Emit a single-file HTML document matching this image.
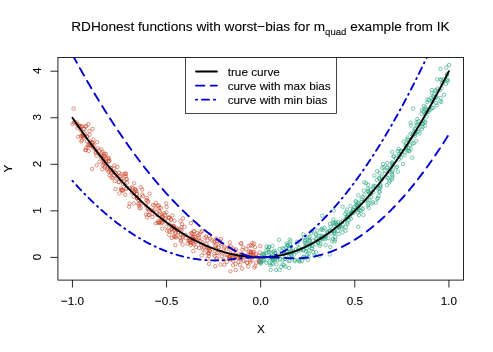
<!DOCTYPE html><html><head><meta charset="utf-8"><title>plot</title><style>html,body{margin:0;padding:0;background:#fff}body{width:493px;height:352px;overflow:hidden}</style></head><body><svg width="493" height="352" viewBox="0 0 493 352" style="display:block;font-family:'Liberation Sans',sans-serif">
<rect width="493" height="352" fill="#fff"/>
<defs><clipPath id="c"><rect x="57.9" y="57.5" width="405.58" height="222.55"/></clipPath></defs>
<g clip-path="url(#c)">
<g fill="none" stroke="#CD4A30" stroke-width="0.7" stroke-opacity="0.85"><circle cx="246.3" cy="249.3" r="1.72"/><circle cx="113.9" cy="168.4" r="1.72"/><circle cx="178.2" cy="232.7" r="1.72"/><circle cx="124.5" cy="174.2" r="1.72"/><circle cx="76.6" cy="122.5" r="1.72"/><circle cx="159.3" cy="207.6" r="1.72"/><circle cx="166.4" cy="226.6" r="1.72"/><circle cx="247.1" cy="262.9" r="1.72"/><circle cx="210.2" cy="238.5" r="1.72"/><circle cx="166.6" cy="206.9" r="1.72"/><circle cx="132.8" cy="188.4" r="1.72"/><circle cx="109.4" cy="160.8" r="1.72"/><circle cx="189.0" cy="240.6" r="1.72"/><circle cx="248.3" cy="266.4" r="1.72"/><circle cx="206.4" cy="247.4" r="1.72"/><circle cx="89.5" cy="131.0" r="1.72"/><circle cx="220.5" cy="264.5" r="1.72"/><circle cx="175.6" cy="232.4" r="1.72"/><circle cx="85.4" cy="150.1" r="1.72"/><circle cx="256.0" cy="256.5" r="1.72"/><circle cx="147.6" cy="200.7" r="1.72"/><circle cx="81.8" cy="140.3" r="1.72"/><circle cx="217.3" cy="252.9" r="1.72"/><circle cx="157.4" cy="205.8" r="1.72"/><circle cx="89.6" cy="142.6" r="1.72"/><circle cx="235.6" cy="263.9" r="1.72"/><circle cx="162.2" cy="228.6" r="1.72"/><circle cx="119.4" cy="193.3" r="1.72"/><circle cx="134.8" cy="189.3" r="1.72"/><circle cx="172.6" cy="232.2" r="1.72"/><circle cx="222.1" cy="244.0" r="1.72"/><circle cx="168.3" cy="217.5" r="1.72"/><circle cx="190.6" cy="242.8" r="1.72"/><circle cx="170.8" cy="229.4" r="1.72"/><circle cx="191.8" cy="233.1" r="1.72"/><circle cx="103.0" cy="158.3" r="1.72"/><circle cx="116.0" cy="173.0" r="1.72"/><circle cx="201.6" cy="255.5" r="1.72"/><circle cx="152.9" cy="205.1" r="1.72"/><circle cx="208.7" cy="253.1" r="1.72"/><circle cx="175.4" cy="245.1" r="1.72"/><circle cx="194.2" cy="244.5" r="1.72"/><circle cx="136.9" cy="194.0" r="1.72"/><circle cx="191.0" cy="223.1" r="1.72"/><circle cx="174.3" cy="230.7" r="1.72"/><circle cx="125.3" cy="194.7" r="1.72"/><circle cx="182.9" cy="218.3" r="1.72"/><circle cx="90.1" cy="141.5" r="1.72"/><circle cx="226.7" cy="254.7" r="1.72"/><circle cx="121.2" cy="188.5" r="1.72"/><circle cx="181.2" cy="239.7" r="1.72"/><circle cx="180.4" cy="221.3" r="1.72"/><circle cx="141.3" cy="203.2" r="1.72"/><circle cx="162.3" cy="223.1" r="1.72"/><circle cx="182.6" cy="237.0" r="1.72"/><circle cx="260.4" cy="246.1" r="1.72"/><circle cx="243.3" cy="260.5" r="1.72"/><circle cx="127.2" cy="182.6" r="1.72"/><circle cx="162.0" cy="217.1" r="1.72"/><circle cx="129.6" cy="188.0" r="1.72"/><circle cx="80.8" cy="136.2" r="1.72"/><circle cx="132.1" cy="187.5" r="1.72"/><circle cx="250.7" cy="245.4" r="1.72"/><circle cx="202.5" cy="244.5" r="1.72"/><circle cx="149.1" cy="215.0" r="1.72"/><circle cx="216.4" cy="259.0" r="1.72"/><circle cx="79.0" cy="126.0" r="1.72"/><circle cx="82.8" cy="134.6" r="1.72"/><circle cx="101.0" cy="157.6" r="1.72"/><circle cx="171.8" cy="226.2" r="1.72"/><circle cx="102.3" cy="169.2" r="1.72"/><circle cx="236.0" cy="249.4" r="1.72"/><circle cx="202.6" cy="242.4" r="1.72"/><circle cx="173.5" cy="228.0" r="1.72"/><circle cx="121.0" cy="178.9" r="1.72"/><circle cx="169.2" cy="217.8" r="1.72"/><circle cx="234.9" cy="254.4" r="1.72"/><circle cx="196.0" cy="247.1" r="1.72"/><circle cx="199.6" cy="234.3" r="1.72"/><circle cx="204.1" cy="247.9" r="1.72"/><circle cx="229.5" cy="258.8" r="1.72"/><circle cx="182.6" cy="244.6" r="1.72"/><circle cx="176.3" cy="229.3" r="1.72"/><circle cx="114.8" cy="181.1" r="1.72"/><circle cx="110.8" cy="172.6" r="1.72"/><circle cx="162.4" cy="216.0" r="1.72"/><circle cx="174.0" cy="227.5" r="1.72"/><circle cx="114.2" cy="165.5" r="1.72"/><circle cx="93.7" cy="145.3" r="1.72"/><circle cx="133.6" cy="196.7" r="1.72"/><circle cx="110.0" cy="170.3" r="1.72"/><circle cx="83.9" cy="137.9" r="1.72"/><circle cx="253.0" cy="252.5" r="1.72"/><circle cx="95.9" cy="150.2" r="1.72"/><circle cx="208.6" cy="249.7" r="1.72"/><circle cx="171.1" cy="219.7" r="1.72"/><circle cx="110.7" cy="168.1" r="1.72"/><circle cx="125.7" cy="188.9" r="1.72"/><circle cx="233.0" cy="265.3" r="1.72"/><circle cx="136.7" cy="193.6" r="1.72"/><circle cx="247.6" cy="255.0" r="1.72"/><circle cx="193.5" cy="239.2" r="1.72"/><circle cx="107.7" cy="168.3" r="1.72"/><circle cx="180.2" cy="237.9" r="1.72"/><circle cx="147.8" cy="208.8" r="1.72"/><circle cx="123.6" cy="181.7" r="1.72"/><circle cx="106.1" cy="164.1" r="1.72"/><circle cx="117.5" cy="177.7" r="1.72"/><circle cx="259.3" cy="260.8" r="1.72"/><circle cx="181.6" cy="230.3" r="1.72"/><circle cx="173.5" cy="225.8" r="1.72"/><circle cx="250.2" cy="262.4" r="1.72"/><circle cx="158.8" cy="211.0" r="1.72"/><circle cx="146.3" cy="200.1" r="1.72"/><circle cx="104.7" cy="155.7" r="1.72"/><circle cx="83.4" cy="134.5" r="1.72"/><circle cx="236.6" cy="256.5" r="1.72"/><circle cx="217.3" cy="258.3" r="1.72"/><circle cx="136.6" cy="191.3" r="1.72"/><circle cx="235.7" cy="270.0" r="1.72"/><circle cx="218.5" cy="253.2" r="1.72"/><circle cx="152.5" cy="213.7" r="1.72"/><circle cx="228.8" cy="247.2" r="1.72"/><circle cx="113.4" cy="172.0" r="1.72"/><circle cx="99.4" cy="161.8" r="1.72"/><circle cx="254.3" cy="267.5" r="1.72"/><circle cx="160.4" cy="223.0" r="1.72"/><circle cx="110.7" cy="167.9" r="1.72"/><circle cx="77.1" cy="124.2" r="1.72"/><circle cx="209.1" cy="248.3" r="1.72"/><circle cx="228.9" cy="258.3" r="1.72"/><circle cx="95.7" cy="151.6" r="1.72"/><circle cx="89.5" cy="134.8" r="1.72"/><circle cx="223.5" cy="259.9" r="1.72"/><circle cx="177.6" cy="229.9" r="1.72"/><circle cx="125.3" cy="173.5" r="1.72"/><circle cx="101.6" cy="153.6" r="1.72"/><circle cx="229.0" cy="256.7" r="1.72"/><circle cx="135.5" cy="190.9" r="1.72"/><circle cx="108.6" cy="171.7" r="1.72"/><circle cx="157.2" cy="215.1" r="1.72"/><circle cx="229.7" cy="242.4" r="1.72"/><circle cx="254.0" cy="243.6" r="1.72"/><circle cx="207.7" cy="258.7" r="1.72"/><circle cx="108.6" cy="161.2" r="1.72"/><circle cx="252.3" cy="243.1" r="1.72"/><circle cx="259.1" cy="261.3" r="1.72"/><circle cx="192.6" cy="237.3" r="1.72"/><circle cx="248.7" cy="246.0" r="1.72"/><circle cx="232.5" cy="257.8" r="1.72"/><circle cx="256.3" cy="254.1" r="1.72"/><circle cx="161.9" cy="219.4" r="1.72"/><circle cx="129.5" cy="203.5" r="1.72"/><circle cx="180.3" cy="229.4" r="1.72"/><circle cx="235.3" cy="256.2" r="1.72"/><circle cx="198.3" cy="235.4" r="1.72"/><circle cx="149.6" cy="193.6" r="1.72"/><circle cx="83.6" cy="128.9" r="1.72"/><circle cx="73.9" cy="122.5" r="1.72"/><circle cx="215.2" cy="246.0" r="1.72"/><circle cx="258.7" cy="255.9" r="1.72"/><circle cx="104.3" cy="153.7" r="1.72"/><circle cx="86.3" cy="147.9" r="1.72"/><circle cx="174.4" cy="236.4" r="1.72"/><circle cx="115.5" cy="189.0" r="1.72"/><circle cx="97.6" cy="148.2" r="1.72"/><circle cx="145.9" cy="205.6" r="1.72"/><circle cx="96.4" cy="155.7" r="1.72"/><circle cx="256.2" cy="262.6" r="1.72"/><circle cx="209.6" cy="251.2" r="1.72"/><circle cx="208.5" cy="253.4" r="1.72"/><circle cx="238.0" cy="257.7" r="1.72"/><circle cx="89.3" cy="145.1" r="1.72"/><circle cx="255.0" cy="247.2" r="1.72"/><circle cx="134.1" cy="191.9" r="1.72"/><circle cx="247.3" cy="262.6" r="1.72"/><circle cx="192.8" cy="243.4" r="1.72"/><circle cx="182.0" cy="224.3" r="1.72"/><circle cx="226.5" cy="249.5" r="1.72"/><circle cx="162.6" cy="217.4" r="1.72"/><circle cx="160.0" cy="212.2" r="1.72"/><circle cx="201.0" cy="231.9" r="1.72"/><circle cx="121.9" cy="190.3" r="1.72"/><circle cx="230.5" cy="259.2" r="1.72"/><circle cx="224.4" cy="264.8" r="1.72"/><circle cx="194.0" cy="236.3" r="1.72"/><circle cx="189.5" cy="240.1" r="1.72"/><circle cx="221.9" cy="256.3" r="1.72"/><circle cx="87.8" cy="145.0" r="1.72"/><circle cx="104.8" cy="156.6" r="1.72"/><circle cx="240.6" cy="256.8" r="1.72"/><circle cx="191.1" cy="242.2" r="1.72"/><circle cx="216.9" cy="240.8" r="1.72"/><circle cx="175.8" cy="236.5" r="1.72"/><circle cx="208.7" cy="255.9" r="1.72"/><circle cx="166.2" cy="203.5" r="1.72"/><circle cx="87.0" cy="141.2" r="1.72"/><circle cx="188.7" cy="240.9" r="1.72"/><circle cx="138.3" cy="203.6" r="1.72"/><circle cx="148.6" cy="208.8" r="1.72"/><circle cx="119.1" cy="172.8" r="1.72"/><circle cx="249.1" cy="251.4" r="1.72"/><circle cx="120.5" cy="176.0" r="1.72"/><circle cx="82.6" cy="134.4" r="1.72"/><circle cx="147.1" cy="217.3" r="1.72"/><circle cx="206.5" cy="243.8" r="1.72"/><circle cx="134.1" cy="183.3" r="1.72"/><circle cx="126.7" cy="178.9" r="1.72"/><circle cx="137.1" cy="198.4" r="1.72"/><circle cx="233.0" cy="248.6" r="1.72"/><circle cx="77.4" cy="127.8" r="1.72"/><circle cx="80.8" cy="130.3" r="1.72"/><circle cx="180.8" cy="241.1" r="1.72"/><circle cx="148.9" cy="210.5" r="1.72"/><circle cx="253.2" cy="256.2" r="1.72"/><circle cx="74.6" cy="122.1" r="1.72"/><circle cx="106.6" cy="158.2" r="1.72"/><circle cx="140.9" cy="187.2" r="1.72"/><circle cx="117.4" cy="167.0" r="1.72"/><circle cx="225.3" cy="254.7" r="1.72"/><circle cx="202.8" cy="249.5" r="1.72"/><circle cx="214.3" cy="253.6" r="1.72"/><circle cx="148.5" cy="214.8" r="1.72"/><circle cx="243.4" cy="256.0" r="1.72"/><circle cx="92.1" cy="142.3" r="1.72"/><circle cx="173.7" cy="226.2" r="1.72"/><circle cx="177.0" cy="228.4" r="1.72"/><circle cx="241.0" cy="254.7" r="1.72"/><circle cx="131.8" cy="192.8" r="1.72"/><circle cx="106.9" cy="169.6" r="1.72"/><circle cx="142.2" cy="189.6" r="1.72"/><circle cx="215.1" cy="241.7" r="1.72"/><circle cx="112.8" cy="177.8" r="1.72"/><circle cx="233.3" cy="261.0" r="1.72"/><circle cx="105.0" cy="166.1" r="1.72"/><circle cx="151.4" cy="210.1" r="1.72"/><circle cx="206.2" cy="236.6" r="1.72"/><circle cx="164.1" cy="213.3" r="1.72"/><circle cx="142.3" cy="194.5" r="1.72"/><circle cx="212.0" cy="240.2" r="1.72"/><circle cx="101.3" cy="149.3" r="1.72"/><circle cx="181.4" cy="227.3" r="1.72"/><circle cx="92.7" cy="142.9" r="1.72"/><circle cx="103.4" cy="160.8" r="1.72"/><circle cx="242.0" cy="268.6" r="1.72"/><circle cx="139.0" cy="200.0" r="1.72"/><circle cx="202.2" cy="230.9" r="1.72"/><circle cx="118.7" cy="181.9" r="1.72"/><circle cx="158.5" cy="220.8" r="1.72"/><circle cx="174.5" cy="220.8" r="1.72"/><circle cx="92.1" cy="144.9" r="1.72"/><circle cx="249.9" cy="260.4" r="1.72"/><circle cx="155.8" cy="202.8" r="1.72"/><circle cx="199.0" cy="237.9" r="1.72"/><circle cx="254.0" cy="251.8" r="1.72"/><circle cx="118.8" cy="182.2" r="1.72"/><circle cx="154.9" cy="209.7" r="1.72"/><circle cx="92.4" cy="143.0" r="1.72"/><circle cx="148.1" cy="201.8" r="1.72"/><circle cx="197.2" cy="233.2" r="1.72"/><circle cx="238.9" cy="254.3" r="1.72"/><circle cx="250.8" cy="252.0" r="1.72"/><circle cx="122.8" cy="190.7" r="1.72"/><circle cx="190.9" cy="233.5" r="1.72"/><circle cx="192.6" cy="234.2" r="1.72"/><circle cx="95.7" cy="152.9" r="1.72"/><circle cx="199.1" cy="248.0" r="1.72"/><circle cx="93.3" cy="147.5" r="1.72"/><circle cx="139.5" cy="208.2" r="1.72"/><circle cx="198.7" cy="239.8" r="1.72"/><circle cx="249.5" cy="254.8" r="1.72"/><circle cx="214.5" cy="255.9" r="1.72"/><circle cx="78.4" cy="126.1" r="1.72"/><circle cx="184.4" cy="226.8" r="1.72"/><circle cx="230.6" cy="246.2" r="1.72"/><circle cx="204.6" cy="237.7" r="1.72"/><circle cx="91.4" cy="145.5" r="1.72"/><circle cx="229.6" cy="256.0" r="1.72"/><circle cx="114.3" cy="175.7" r="1.72"/><circle cx="235.3" cy="250.6" r="1.72"/><circle cx="160.9" cy="208.0" r="1.72"/><circle cx="252.6" cy="245.7" r="1.72"/><circle cx="85.4" cy="126.6" r="1.72"/><circle cx="193.3" cy="251.1" r="1.72"/><circle cx="123.0" cy="184.1" r="1.72"/><circle cx="162.1" cy="222.2" r="1.72"/><circle cx="243.3" cy="247.2" r="1.72"/><circle cx="240.7" cy="243.6" r="1.72"/><circle cx="232.6" cy="259.1" r="1.72"/><circle cx="230.3" cy="253.5" r="1.72"/><circle cx="250.7" cy="253.0" r="1.72"/><circle cx="251.8" cy="260.6" r="1.72"/><circle cx="82.2" cy="136.3" r="1.72"/><circle cx="243.5" cy="261.1" r="1.72"/><circle cx="165.0" cy="214.9" r="1.72"/><circle cx="238.4" cy="262.0" r="1.72"/><circle cx="220.3" cy="242.8" r="1.72"/><circle cx="117.0" cy="175.5" r="1.72"/><circle cx="84.1" cy="129.1" r="1.72"/><circle cx="172.3" cy="215.4" r="1.72"/><circle cx="259.6" cy="262.2" r="1.72"/><circle cx="72.6" cy="123.9" r="1.72"/><circle cx="251.7" cy="254.0" r="1.72"/><circle cx="187.4" cy="243.7" r="1.72"/><circle cx="159.2" cy="222.1" r="1.72"/><circle cx="92.8" cy="147.2" r="1.72"/><circle cx="105.7" cy="161.7" r="1.72"/><circle cx="146.0" cy="214.5" r="1.72"/><circle cx="185.7" cy="238.0" r="1.72"/><circle cx="103.6" cy="156.0" r="1.72"/><circle cx="97.1" cy="142.2" r="1.72"/><circle cx="96.6" cy="165.4" r="1.72"/><circle cx="125.6" cy="176.1" r="1.72"/><circle cx="242.3" cy="249.7" r="1.72"/><circle cx="204.5" cy="252.8" r="1.72"/><circle cx="169.2" cy="235.0" r="1.72"/><circle cx="165.6" cy="218.8" r="1.72"/><circle cx="103.9" cy="163.5" r="1.72"/><circle cx="215.9" cy="248.5" r="1.72"/><circle cx="135.6" cy="189.5" r="1.72"/><circle cx="190.2" cy="240.5" r="1.72"/><circle cx="114.7" cy="172.3" r="1.72"/><circle cx="223.8" cy="248.6" r="1.72"/><circle cx="171.0" cy="219.3" r="1.72"/><circle cx="241.2" cy="243.2" r="1.72"/><circle cx="220.8" cy="238.9" r="1.72"/><circle cx="84.7" cy="133.5" r="1.72"/><circle cx="201.2" cy="245.1" r="1.72"/><circle cx="92.6" cy="129.0" r="1.72"/><circle cx="162.0" cy="214.4" r="1.72"/><circle cx="253.3" cy="254.1" r="1.72"/><circle cx="111.4" cy="177.5" r="1.72"/><circle cx="250.9" cy="251.4" r="1.72"/><circle cx="105.0" cy="167.5" r="1.72"/><circle cx="259.0" cy="260.7" r="1.72"/><circle cx="133.8" cy="203.5" r="1.72"/><circle cx="229.5" cy="257.3" r="1.72"/><circle cx="196.1" cy="240.5" r="1.72"/><circle cx="81.3" cy="141.4" r="1.72"/><circle cx="169.2" cy="230.8" r="1.72"/><circle cx="136.9" cy="197.6" r="1.72"/><circle cx="121.3" cy="189.8" r="1.72"/><circle cx="240.0" cy="264.7" r="1.72"/><circle cx="102.8" cy="165.1" r="1.72"/><circle cx="88.7" cy="150.9" r="1.72"/><circle cx="231.4" cy="249.6" r="1.72"/><circle cx="157.9" cy="222.9" r="1.72"/><circle cx="207.3" cy="240.6" r="1.72"/><circle cx="121.3" cy="174.1" r="1.72"/><circle cx="255.4" cy="265.9" r="1.72"/><circle cx="164.2" cy="220.4" r="1.72"/><circle cx="111.4" cy="173.1" r="1.72"/><circle cx="122.4" cy="190.2" r="1.72"/><circle cx="240.3" cy="258.2" r="1.72"/><circle cx="103.9" cy="162.2" r="1.72"/><circle cx="215.9" cy="244.4" r="1.72"/><circle cx="108.6" cy="158.9" r="1.72"/><circle cx="167.1" cy="230.8" r="1.72"/><circle cx="230.4" cy="256.7" r="1.72"/><circle cx="122.5" cy="178.3" r="1.72"/><circle cx="108.6" cy="157.8" r="1.72"/><circle cx="129.1" cy="206.7" r="1.72"/><circle cx="212.5" cy="249.4" r="1.72"/><circle cx="216.3" cy="238.6" r="1.72"/><circle cx="233.0" cy="257.4" r="1.72"/><circle cx="159.1" cy="222.7" r="1.72"/><circle cx="185.5" cy="234.8" r="1.72"/><circle cx="193.5" cy="231.2" r="1.72"/><circle cx="174.0" cy="227.6" r="1.72"/><circle cx="209.0" cy="263.8" r="1.72"/><circle cx="259.9" cy="252.5" r="1.72"/><circle cx="171.9" cy="237.9" r="1.72"/><circle cx="208.8" cy="253.8" r="1.72"/><circle cx="176.0" cy="237.5" r="1.72"/><circle cx="85.8" cy="150.1" r="1.72"/><circle cx="227.0" cy="261.9" r="1.72"/><circle cx="140.7" cy="207.8" r="1.72"/><circle cx="139.4" cy="203.8" r="1.72"/><circle cx="207.7" cy="246.7" r="1.72"/><circle cx="172.0" cy="228.8" r="1.72"/><circle cx="78.2" cy="136.8" r="1.72"/><circle cx="196.2" cy="242.3" r="1.72"/><circle cx="126.6" cy="179.5" r="1.72"/><circle cx="102.5" cy="152.0" r="1.72"/><circle cx="192.8" cy="238.3" r="1.72"/><circle cx="142.9" cy="196.3" r="1.72"/><circle cx="166.4" cy="212.5" r="1.72"/><circle cx="126.1" cy="173.8" r="1.72"/><circle cx="180.9" cy="234.6" r="1.72"/><circle cx="126.6" cy="188.5" r="1.72"/><circle cx="209.0" cy="236.2" r="1.72"/><circle cx="86.2" cy="126.1" r="1.72"/><circle cx="158.7" cy="205.3" r="1.72"/><circle cx="215.2" cy="266.2" r="1.72"/><circle cx="178.4" cy="232.3" r="1.72"/><circle cx="92.2" cy="169.0" r="1.72"/><circle cx="108.8" cy="161.2" r="1.72"/><circle cx="169.5" cy="224.2" r="1.72"/><circle cx="194.5" cy="239.7" r="1.72"/><circle cx="189.9" cy="238.6" r="1.72"/><circle cx="239.6" cy="257.8" r="1.72"/><circle cx="93.3" cy="139.6" r="1.72"/><circle cx="99.3" cy="150.7" r="1.72"/><circle cx="218.4" cy="247.8" r="1.72"/><circle cx="194.9" cy="237.0" r="1.72"/><circle cx="153.5" cy="211.3" r="1.72"/><circle cx="109.6" cy="175.4" r="1.72"/><circle cx="81.8" cy="126.1" r="1.72"/><circle cx="207.7" cy="247.4" r="1.72"/><circle cx="224.5" cy="247.0" r="1.72"/><circle cx="168.9" cy="217.7" r="1.72"/><circle cx="155.7" cy="223.2" r="1.72"/><circle cx="137.1" cy="198.2" r="1.72"/><circle cx="240.4" cy="259.0" r="1.72"/><circle cx="139.0" cy="205.6" r="1.72"/><circle cx="87.2" cy="136.5" r="1.72"/><circle cx="88.4" cy="146.5" r="1.72"/><circle cx="83.0" cy="136.1" r="1.72"/><circle cx="87.1" cy="136.8" r="1.72"/><circle cx="79.8" cy="126.0" r="1.72"/><circle cx="251.5" cy="254.7" r="1.72"/><circle cx="88.3" cy="124.1" r="1.72"/><circle cx="209.6" cy="250.8" r="1.72"/><circle cx="200.3" cy="241.2" r="1.72"/><circle cx="174.4" cy="236.7" r="1.72"/><circle cx="80.9" cy="126.5" r="1.72"/><circle cx="146.8" cy="197.9" r="1.72"/><circle cx="194.3" cy="231.3" r="1.72"/><circle cx="190.3" cy="242.4" r="1.72"/><circle cx="90.3" cy="145.1" r="1.72"/><circle cx="105.9" cy="153.9" r="1.72"/><circle cx="234.8" cy="255.4" r="1.72"/><circle cx="213.9" cy="241.8" r="1.72"/><circle cx="190.7" cy="245.1" r="1.72"/><circle cx="219.9" cy="240.9" r="1.72"/><circle cx="154.6" cy="205.6" r="1.72"/><circle cx="218.6" cy="247.1" r="1.72"/><circle cx="152.5" cy="217.0" r="1.72"/><circle cx="84.5" cy="136.2" r="1.72"/><circle cx="100.9" cy="155.7" r="1.72"/><circle cx="242.0" cy="254.1" r="1.72"/><circle cx="221.7" cy="252.2" r="1.72"/><circle cx="183.0" cy="235.2" r="1.72"/><circle cx="139.1" cy="197.7" r="1.72"/><circle cx="73.6" cy="108.6" r="1.72"/><circle cx="230.4" cy="271.3" r="1.72"/></g>
<g fill="none" stroke="#25A47E" stroke-width="0.7" stroke-opacity="0.85"><circle cx="333.4" cy="219.5" r="1.72"/><circle cx="308.0" cy="260.1" r="1.72"/><circle cx="325.6" cy="245.2" r="1.72"/><circle cx="299.1" cy="260.8" r="1.72"/><circle cx="422.9" cy="124.0" r="1.72"/><circle cx="391.9" cy="179.4" r="1.72"/><circle cx="338.0" cy="222.0" r="1.72"/><circle cx="392.5" cy="165.4" r="1.72"/><circle cx="358.5" cy="208.9" r="1.72"/><circle cx="359.7" cy="210.7" r="1.72"/><circle cx="329.8" cy="231.1" r="1.72"/><circle cx="352.6" cy="211.7" r="1.72"/><circle cx="408.3" cy="148.1" r="1.72"/><circle cx="416.5" cy="125.2" r="1.72"/><circle cx="284.1" cy="265.1" r="1.72"/><circle cx="355.6" cy="201.0" r="1.72"/><circle cx="329.7" cy="254.5" r="1.72"/><circle cx="277.4" cy="260.2" r="1.72"/><circle cx="335.1" cy="237.0" r="1.72"/><circle cx="274.6" cy="250.7" r="1.72"/><circle cx="304.7" cy="257.9" r="1.72"/><circle cx="411.0" cy="125.5" r="1.72"/><circle cx="389.8" cy="180.9" r="1.72"/><circle cx="392.2" cy="151.9" r="1.72"/><circle cx="275.6" cy="253.0" r="1.72"/><circle cx="291.5" cy="252.2" r="1.72"/><circle cx="264.7" cy="254.2" r="1.72"/><circle cx="279.0" cy="239.8" r="1.72"/><circle cx="279.7" cy="249.0" r="1.72"/><circle cx="441.4" cy="101.9" r="1.72"/><circle cx="428.9" cy="100.0" r="1.72"/><circle cx="299.1" cy="248.0" r="1.72"/><circle cx="308.5" cy="257.1" r="1.72"/><circle cx="441.5" cy="80.0" r="1.72"/><circle cx="368.0" cy="205.6" r="1.72"/><circle cx="330.0" cy="230.8" r="1.72"/><circle cx="348.5" cy="215.2" r="1.72"/><circle cx="311.9" cy="248.3" r="1.72"/><circle cx="370.5" cy="189.3" r="1.72"/><circle cx="397.2" cy="166.8" r="1.72"/><circle cx="357.7" cy="206.5" r="1.72"/><circle cx="415.2" cy="135.9" r="1.72"/><circle cx="282.0" cy="256.3" r="1.72"/><circle cx="374.3" cy="175.7" r="1.72"/><circle cx="447.0" cy="74.2" r="1.72"/><circle cx="288.7" cy="261.1" r="1.72"/><circle cx="353.9" cy="212.6" r="1.72"/><circle cx="379.3" cy="189.0" r="1.72"/><circle cx="324.2" cy="236.0" r="1.72"/><circle cx="442.2" cy="83.0" r="1.72"/><circle cx="352.0" cy="212.9" r="1.72"/><circle cx="350.8" cy="214.1" r="1.72"/><circle cx="430.6" cy="109.6" r="1.72"/><circle cx="263.7" cy="254.1" r="1.72"/><circle cx="424.2" cy="109.2" r="1.72"/><circle cx="285.0" cy="258.8" r="1.72"/><circle cx="332.1" cy="231.1" r="1.72"/><circle cx="352.6" cy="212.5" r="1.72"/><circle cx="350.4" cy="206.1" r="1.72"/><circle cx="268.1" cy="249.3" r="1.72"/><circle cx="320.4" cy="243.9" r="1.72"/><circle cx="327.8" cy="233.2" r="1.72"/><circle cx="440.7" cy="97.9" r="1.72"/><circle cx="433.3" cy="107.8" r="1.72"/><circle cx="370.7" cy="193.7" r="1.72"/><circle cx="436.4" cy="90.6" r="1.72"/><circle cx="423.3" cy="111.6" r="1.72"/><circle cx="331.4" cy="233.4" r="1.72"/><circle cx="282.7" cy="264.6" r="1.72"/><circle cx="375.0" cy="185.9" r="1.72"/><circle cx="321.5" cy="239.2" r="1.72"/><circle cx="262.5" cy="254.3" r="1.72"/><circle cx="361.7" cy="199.0" r="1.72"/><circle cx="377.0" cy="180.2" r="1.72"/><circle cx="386.6" cy="177.4" r="1.72"/><circle cx="435.1" cy="90.4" r="1.72"/><circle cx="348.7" cy="220.3" r="1.72"/><circle cx="370.4" cy="193.5" r="1.72"/><circle cx="303.3" cy="234.4" r="1.72"/><circle cx="306.3" cy="243.9" r="1.72"/><circle cx="359.0" cy="215.1" r="1.72"/><circle cx="303.8" cy="236.9" r="1.72"/><circle cx="266.4" cy="250.0" r="1.72"/><circle cx="330.0" cy="223.9" r="1.72"/><circle cx="401.8" cy="151.3" r="1.72"/><circle cx="312.8" cy="240.6" r="1.72"/><circle cx="423.1" cy="120.5" r="1.72"/><circle cx="392.9" cy="170.6" r="1.72"/><circle cx="383.7" cy="166.9" r="1.72"/><circle cx="428.7" cy="111.7" r="1.72"/><circle cx="274.6" cy="259.9" r="1.72"/><circle cx="294.3" cy="254.6" r="1.72"/><circle cx="431.8" cy="90.0" r="1.72"/><circle cx="431.4" cy="97.9" r="1.72"/><circle cx="275.4" cy="258.9" r="1.72"/><circle cx="406.4" cy="146.1" r="1.72"/><circle cx="263.6" cy="253.7" r="1.72"/><circle cx="286.1" cy="247.7" r="1.72"/><circle cx="281.3" cy="266.8" r="1.72"/><circle cx="316.0" cy="234.8" r="1.72"/><circle cx="333.8" cy="230.9" r="1.72"/><circle cx="432.1" cy="107.9" r="1.72"/><circle cx="342.8" cy="224.8" r="1.72"/><circle cx="284.0" cy="248.8" r="1.72"/><circle cx="311.9" cy="230.9" r="1.72"/><circle cx="261.9" cy="256.3" r="1.72"/><circle cx="266.0" cy="253.2" r="1.72"/><circle cx="341.8" cy="228.7" r="1.72"/><circle cx="357.1" cy="205.0" r="1.72"/><circle cx="307.7" cy="239.8" r="1.72"/><circle cx="332.2" cy="241.3" r="1.72"/><circle cx="280.1" cy="259.1" r="1.72"/><circle cx="384.7" cy="170.9" r="1.72"/><circle cx="334.6" cy="241.4" r="1.72"/><circle cx="291.1" cy="255.2" r="1.72"/><circle cx="354.3" cy="207.0" r="1.72"/><circle cx="299.9" cy="261.5" r="1.72"/><circle cx="315.7" cy="244.4" r="1.72"/><circle cx="284.1" cy="254.1" r="1.72"/><circle cx="407.6" cy="137.5" r="1.72"/><circle cx="313.3" cy="252.1" r="1.72"/><circle cx="440.6" cy="79.3" r="1.72"/><circle cx="337.0" cy="224.6" r="1.72"/><circle cx="289.9" cy="244.3" r="1.72"/><circle cx="393.4" cy="156.4" r="1.72"/><circle cx="398.8" cy="154.7" r="1.72"/><circle cx="426.6" cy="109.3" r="1.72"/><circle cx="285.4" cy="266.7" r="1.72"/><circle cx="409.4" cy="151.0" r="1.72"/><circle cx="422.5" cy="127.0" r="1.72"/><circle cx="318.0" cy="242.6" r="1.72"/><circle cx="346.2" cy="212.2" r="1.72"/><circle cx="377.3" cy="198.8" r="1.72"/><circle cx="306.9" cy="248.5" r="1.72"/><circle cx="424.7" cy="125.6" r="1.72"/><circle cx="392.3" cy="177.6" r="1.72"/><circle cx="421.9" cy="110.1" r="1.72"/><circle cx="345.4" cy="219.0" r="1.72"/><circle cx="358.4" cy="195.4" r="1.72"/><circle cx="297.2" cy="241.8" r="1.72"/><circle cx="319.8" cy="245.7" r="1.72"/><circle cx="398.0" cy="171.7" r="1.72"/><circle cx="289.3" cy="256.0" r="1.72"/><circle cx="270.2" cy="265.2" r="1.72"/><circle cx="273.4" cy="251.6" r="1.72"/><circle cx="342.6" cy="221.1" r="1.72"/><circle cx="409.9" cy="145.2" r="1.72"/><circle cx="303.0" cy="250.5" r="1.72"/><circle cx="350.5" cy="213.8" r="1.72"/><circle cx="357.7" cy="207.4" r="1.72"/><circle cx="418.4" cy="121.3" r="1.72"/><circle cx="291.6" cy="254.9" r="1.72"/><circle cx="263.5" cy="259.8" r="1.72"/><circle cx="356.0" cy="205.3" r="1.72"/><circle cx="327.5" cy="231.6" r="1.72"/><circle cx="315.7" cy="233.6" r="1.72"/><circle cx="406.0" cy="148.2" r="1.72"/><circle cx="389.3" cy="171.1" r="1.72"/><circle cx="276.5" cy="264.4" r="1.72"/><circle cx="363.8" cy="190.6" r="1.72"/><circle cx="410.9" cy="148.9" r="1.72"/><circle cx="431.9" cy="101.9" r="1.72"/><circle cx="260.7" cy="263.8" r="1.72"/><circle cx="412.7" cy="133.5" r="1.72"/><circle cx="268.8" cy="251.7" r="1.72"/><circle cx="389.1" cy="182.6" r="1.72"/><circle cx="373.2" cy="192.3" r="1.72"/><circle cx="439.9" cy="101.3" r="1.72"/><circle cx="379.6" cy="172.9" r="1.72"/><circle cx="273.8" cy="259.7" r="1.72"/><circle cx="386.9" cy="185.1" r="1.72"/><circle cx="308.7" cy="250.4" r="1.72"/><circle cx="417.3" cy="119.1" r="1.72"/><circle cx="266.6" cy="246.5" r="1.72"/><circle cx="321.7" cy="228.7" r="1.72"/><circle cx="388.0" cy="177.9" r="1.72"/><circle cx="290.0" cy="254.0" r="1.72"/><circle cx="382.3" cy="167.8" r="1.72"/><circle cx="391.9" cy="172.2" r="1.72"/><circle cx="398.8" cy="159.6" r="1.72"/><circle cx="425.4" cy="121.6" r="1.72"/><circle cx="338.5" cy="234.0" r="1.72"/><circle cx="287.5" cy="244.9" r="1.72"/><circle cx="309.7" cy="240.2" r="1.72"/><circle cx="334.0" cy="225.9" r="1.72"/><circle cx="271.0" cy="252.7" r="1.72"/><circle cx="394.1" cy="156.6" r="1.72"/><circle cx="272.5" cy="245.8" r="1.72"/><circle cx="271.5" cy="256.8" r="1.72"/><circle cx="436.2" cy="97.9" r="1.72"/><circle cx="412.4" cy="143.8" r="1.72"/><circle cx="308.4" cy="237.6" r="1.72"/><circle cx="325.0" cy="239.4" r="1.72"/><circle cx="416.1" cy="141.2" r="1.72"/><circle cx="377.2" cy="187.9" r="1.72"/><circle cx="310.5" cy="244.2" r="1.72"/><circle cx="345.2" cy="213.9" r="1.72"/><circle cx="421.7" cy="113.9" r="1.72"/><circle cx="260.8" cy="262.7" r="1.72"/><circle cx="447.5" cy="79.8" r="1.72"/><circle cx="367.2" cy="200.1" r="1.72"/><circle cx="294.9" cy="260.0" r="1.72"/><circle cx="411.3" cy="139.0" r="1.72"/><circle cx="275.0" cy="253.0" r="1.72"/><circle cx="337.9" cy="225.8" r="1.72"/><circle cx="368.6" cy="207.9" r="1.72"/><circle cx="307.2" cy="254.6" r="1.72"/><circle cx="427.3" cy="102.2" r="1.72"/><circle cx="391.9" cy="174.3" r="1.72"/><circle cx="291.1" cy="247.2" r="1.72"/><circle cx="289.4" cy="248.5" r="1.72"/><circle cx="272.3" cy="259.0" r="1.72"/><circle cx="368.3" cy="203.8" r="1.72"/><circle cx="295.9" cy="249.4" r="1.72"/><circle cx="362.9" cy="208.9" r="1.72"/><circle cx="414.9" cy="133.6" r="1.72"/><circle cx="426.2" cy="112.7" r="1.72"/><circle cx="282.6" cy="260.1" r="1.72"/><circle cx="323.2" cy="238.5" r="1.72"/><circle cx="339.2" cy="227.2" r="1.72"/><circle cx="332.9" cy="238.9" r="1.72"/><circle cx="339.5" cy="226.1" r="1.72"/><circle cx="347.3" cy="222.6" r="1.72"/><circle cx="403.1" cy="164.0" r="1.72"/><circle cx="318.2" cy="242.5" r="1.72"/><circle cx="325.3" cy="237.5" r="1.72"/><circle cx="334.1" cy="233.4" r="1.72"/><circle cx="289.1" cy="268.0" r="1.72"/><circle cx="379.3" cy="177.8" r="1.72"/><circle cx="336.0" cy="222.6" r="1.72"/><circle cx="433.1" cy="96.4" r="1.72"/><circle cx="415.3" cy="129.4" r="1.72"/><circle cx="304.0" cy="256.6" r="1.72"/><circle cx="306.3" cy="245.6" r="1.72"/><circle cx="407.9" cy="150.1" r="1.72"/><circle cx="366.1" cy="183.2" r="1.72"/><circle cx="262.6" cy="261.1" r="1.72"/><circle cx="379.2" cy="178.7" r="1.72"/><circle cx="335.0" cy="239.6" r="1.72"/><circle cx="408.5" cy="151.1" r="1.72"/><circle cx="401.3" cy="157.4" r="1.72"/><circle cx="434.3" cy="93.9" r="1.72"/><circle cx="392.3" cy="162.4" r="1.72"/><circle cx="432.5" cy="100.1" r="1.72"/><circle cx="314.3" cy="255.7" r="1.72"/><circle cx="324.4" cy="227.9" r="1.72"/><circle cx="271.8" cy="263.4" r="1.72"/><circle cx="423.9" cy="105.8" r="1.72"/><circle cx="289.7" cy="239.5" r="1.72"/><circle cx="364.5" cy="194.8" r="1.72"/><circle cx="356.5" cy="202.0" r="1.72"/><circle cx="413.9" cy="143.1" r="1.72"/><circle cx="333.7" cy="210.7" r="1.72"/><circle cx="287.5" cy="252.0" r="1.72"/><circle cx="332.8" cy="222.9" r="1.72"/><circle cx="269.7" cy="263.2" r="1.72"/><circle cx="317.4" cy="240.9" r="1.72"/><circle cx="379.3" cy="192.1" r="1.72"/><circle cx="271.4" cy="258.5" r="1.72"/><circle cx="447.0" cy="74.9" r="1.72"/><circle cx="361.6" cy="202.0" r="1.72"/><circle cx="317.2" cy="230.6" r="1.72"/><circle cx="417.6" cy="124.5" r="1.72"/><circle cx="286.6" cy="252.1" r="1.72"/><circle cx="321.3" cy="237.8" r="1.72"/><circle cx="437.1" cy="79.4" r="1.72"/><circle cx="305.8" cy="250.9" r="1.72"/><circle cx="398.6" cy="148.8" r="1.72"/><circle cx="275.9" cy="270.0" r="1.72"/><circle cx="360.9" cy="210.9" r="1.72"/><circle cx="384.6" cy="173.8" r="1.72"/><circle cx="300.2" cy="250.4" r="1.72"/><circle cx="322.3" cy="215.7" r="1.72"/><circle cx="364.3" cy="182.4" r="1.72"/><circle cx="371.7" cy="203.5" r="1.72"/><circle cx="289.7" cy="260.7" r="1.72"/><circle cx="338.0" cy="227.0" r="1.72"/><circle cx="321.4" cy="229.8" r="1.72"/><circle cx="408.5" cy="140.2" r="1.72"/><circle cx="298.6" cy="260.0" r="1.72"/><circle cx="347.5" cy="223.9" r="1.72"/><circle cx="358.2" cy="226.8" r="1.72"/><circle cx="372.9" cy="202.3" r="1.72"/><circle cx="395.8" cy="158.4" r="1.72"/><circle cx="410.5" cy="133.7" r="1.72"/><circle cx="392.5" cy="175.5" r="1.72"/><circle cx="412.6" cy="135.3" r="1.72"/><circle cx="427.4" cy="99.5" r="1.72"/><circle cx="322.1" cy="236.4" r="1.72"/><circle cx="416.4" cy="132.1" r="1.72"/><circle cx="358.6" cy="202.6" r="1.72"/><circle cx="309.5" cy="241.0" r="1.72"/><circle cx="293.3" cy="251.2" r="1.72"/><circle cx="404.6" cy="152.4" r="1.72"/><circle cx="380.5" cy="185.0" r="1.72"/><circle cx="274.0" cy="255.8" r="1.72"/><circle cx="371.3" cy="197.1" r="1.72"/><circle cx="269.1" cy="247.4" r="1.72"/><circle cx="334.3" cy="222.4" r="1.72"/><circle cx="368.2" cy="188.8" r="1.72"/><circle cx="383.1" cy="164.0" r="1.72"/><circle cx="290.4" cy="241.3" r="1.72"/><circle cx="269.1" cy="246.8" r="1.72"/><circle cx="369.1" cy="192.9" r="1.72"/><circle cx="414.8" cy="133.9" r="1.72"/><circle cx="410.6" cy="122.6" r="1.72"/><circle cx="328.4" cy="238.1" r="1.72"/><circle cx="369.3" cy="199.9" r="1.72"/><circle cx="396.0" cy="167.5" r="1.72"/><circle cx="425.0" cy="113.8" r="1.72"/><circle cx="353.2" cy="209.3" r="1.72"/><circle cx="425.5" cy="107.2" r="1.72"/><circle cx="320.5" cy="240.2" r="1.72"/><circle cx="301.9" cy="260.9" r="1.72"/><circle cx="316.0" cy="239.0" r="1.72"/><circle cx="398.0" cy="151.2" r="1.72"/><circle cx="427.3" cy="111.3" r="1.72"/><circle cx="349.4" cy="217.0" r="1.72"/><circle cx="391.7" cy="163.1" r="1.72"/><circle cx="286.8" cy="243.4" r="1.72"/><circle cx="356.2" cy="209.9" r="1.72"/><circle cx="342.5" cy="232.4" r="1.72"/><circle cx="341.9" cy="226.8" r="1.72"/><circle cx="296.1" cy="252.0" r="1.72"/><circle cx="377.9" cy="198.1" r="1.72"/><circle cx="387.2" cy="167.7" r="1.72"/><circle cx="380.5" cy="187.5" r="1.72"/><circle cx="400.5" cy="151.0" r="1.72"/><circle cx="346.9" cy="216.9" r="1.72"/><circle cx="421.2" cy="124.3" r="1.72"/><circle cx="368.2" cy="184.9" r="1.72"/><circle cx="426.7" cy="116.6" r="1.72"/><circle cx="337.9" cy="230.9" r="1.72"/><circle cx="392.5" cy="164.0" r="1.72"/><circle cx="297.7" cy="244.1" r="1.72"/><circle cx="276.3" cy="256.1" r="1.72"/><circle cx="436.0" cy="102.9" r="1.72"/><circle cx="330.5" cy="226.8" r="1.72"/><circle cx="269.3" cy="252.6" r="1.72"/><circle cx="377.1" cy="171.2" r="1.72"/><circle cx="436.3" cy="96.8" r="1.72"/><circle cx="405.4" cy="145.7" r="1.72"/><circle cx="446.5" cy="80.0" r="1.72"/><circle cx="436.7" cy="105.3" r="1.72"/><circle cx="346.4" cy="218.2" r="1.72"/><circle cx="304.7" cy="241.1" r="1.72"/><circle cx="273.0" cy="263.9" r="1.72"/><circle cx="311.9" cy="248.5" r="1.72"/><circle cx="379.7" cy="191.5" r="1.72"/><circle cx="432.1" cy="93.2" r="1.72"/><circle cx="261.0" cy="262.0" r="1.72"/><circle cx="414.6" cy="128.8" r="1.72"/><circle cx="404.6" cy="154.8" r="1.72"/><circle cx="390.7" cy="168.0" r="1.72"/><circle cx="284.8" cy="258.9" r="1.72"/><circle cx="270.7" cy="270.0" r="1.72"/><circle cx="399.4" cy="155.8" r="1.72"/><circle cx="381.4" cy="177.0" r="1.72"/><circle cx="330.3" cy="247.0" r="1.72"/><circle cx="325.7" cy="236.4" r="1.72"/><circle cx="266.8" cy="260.3" r="1.72"/><circle cx="447.7" cy="81.4" r="1.72"/><circle cx="418.2" cy="128.9" r="1.72"/><circle cx="444.1" cy="94.7" r="1.72"/><circle cx="414.7" cy="131.0" r="1.72"/><circle cx="347.0" cy="209.6" r="1.72"/><circle cx="419.8" cy="133.5" r="1.72"/><circle cx="298.0" cy="250.5" r="1.72"/><circle cx="387.3" cy="162.9" r="1.72"/><circle cx="305.3" cy="246.0" r="1.72"/><circle cx="334.6" cy="232.5" r="1.72"/><circle cx="424.8" cy="122.5" r="1.72"/><circle cx="340.7" cy="222.5" r="1.72"/><circle cx="428.9" cy="109.6" r="1.72"/><circle cx="373.5" cy="185.9" r="1.72"/><circle cx="316.0" cy="252.3" r="1.72"/><circle cx="309.7" cy="237.0" r="1.72"/><circle cx="261.3" cy="260.3" r="1.72"/><circle cx="368.4" cy="191.8" r="1.72"/><circle cx="418.5" cy="131.7" r="1.72"/><circle cx="303.0" cy="257.4" r="1.72"/><circle cx="350.9" cy="218.7" r="1.72"/><circle cx="445.9" cy="84.0" r="1.72"/><circle cx="334.7" cy="231.3" r="1.72"/><circle cx="437.3" cy="88.7" r="1.72"/><circle cx="416.3" cy="122.4" r="1.72"/><circle cx="353.8" cy="210.4" r="1.72"/><circle cx="380.3" cy="186.1" r="1.72"/><circle cx="273.0" cy="259.9" r="1.72"/><circle cx="357.9" cy="203.5" r="1.72"/><circle cx="403.7" cy="141.7" r="1.72"/><circle cx="304.0" cy="249.8" r="1.72"/><circle cx="270.4" cy="257.8" r="1.72"/><circle cx="266.2" cy="262.7" r="1.72"/><circle cx="290.9" cy="251.1" r="1.72"/><circle cx="305.4" cy="240.0" r="1.72"/><circle cx="412.3" cy="157.6" r="1.72"/><circle cx="347.1" cy="216.3" r="1.72"/><circle cx="361.5" cy="208.0" r="1.72"/><circle cx="319.6" cy="255.9" r="1.72"/><circle cx="316.9" cy="238.5" r="1.72"/><circle cx="364.9" cy="201.0" r="1.72"/><circle cx="401.1" cy="151.2" r="1.72"/><circle cx="294.7" cy="261.2" r="1.72"/><circle cx="342.5" cy="206.8" r="1.72"/><circle cx="381.9" cy="179.4" r="1.72"/><circle cx="441.4" cy="88.2" r="1.72"/><circle cx="311.4" cy="232.9" r="1.72"/><circle cx="334.6" cy="224.0" r="1.72"/><circle cx="367.8" cy="191.0" r="1.72"/><circle cx="287.4" cy="245.3" r="1.72"/><circle cx="375.8" cy="202.7" r="1.72"/><circle cx="312.1" cy="246.0" r="1.72"/><circle cx="351.1" cy="212.3" r="1.72"/><circle cx="282.8" cy="248.2" r="1.72"/><circle cx="358.2" cy="212.6" r="1.72"/><circle cx="443.6" cy="79.3" r="1.72"/><circle cx="362.8" cy="197.1" r="1.72"/><circle cx="300.9" cy="249.2" r="1.72"/><circle cx="319.2" cy="235.8" r="1.72"/><circle cx="378.6" cy="195.9" r="1.72"/><circle cx="422.0" cy="129.2" r="1.72"/><circle cx="346.0" cy="227.4" r="1.72"/><circle cx="352.9" cy="210.0" r="1.72"/><circle cx="413.0" cy="108.4" r="1.72"/><circle cx="280.5" cy="253.4" r="1.72"/><circle cx="439.7" cy="90.0" r="1.72"/><circle cx="348.2" cy="217.6" r="1.72"/><circle cx="323.1" cy="229.8" r="1.72"/><circle cx="407.2" cy="139.4" r="1.72"/><circle cx="309.0" cy="253.4" r="1.72"/><circle cx="288.2" cy="246.1" r="1.72"/><circle cx="309.3" cy="245.2" r="1.72"/><circle cx="387.3" cy="167.3" r="1.72"/><circle cx="279.6" cy="269.9" r="1.72"/><circle cx="345.6" cy="230.7" r="1.72"/><circle cx="305.0" cy="242.8" r="1.72"/><circle cx="363.4" cy="214.9" r="1.72"/><circle cx="286.7" cy="251.0" r="1.72"/><circle cx="406.4" cy="143.4" r="1.72"/><circle cx="434.6" cy="97.4" r="1.72"/><circle cx="320.8" cy="235.8" r="1.72"/><circle cx="327.4" cy="232.1" r="1.72"/><circle cx="373.3" cy="187.6" r="1.72"/><circle cx="440.4" cy="68.9" r="1.72"/><circle cx="446.3" cy="67.6" r="1.72"/><circle cx="449.1" cy="65.0" r="1.72"/></g>
<path d="M72.45 117.75 L73.39 119.14 L74.33 120.53 L75.27 121.91 L76.21 123.28 L77.16 124.65 L78.10 126.00 L79.04 127.35 L79.98 128.70 L80.92 130.04 L81.86 131.37 L82.80 132.69 L83.74 134.01 L84.68 135.31 L85.63 136.62 L86.57 137.91 L87.51 139.20 L88.45 140.48 L89.39 141.76 L90.33 143.02 L91.27 144.28 L92.21 145.54 L93.16 146.78 L94.10 148.02 L95.04 149.26 L95.98 150.48 L96.92 151.70 L97.86 152.91 L98.80 154.11 L99.74 155.31 L100.68 156.50 L101.63 157.69 L102.57 158.86 L103.51 160.03 L104.45 161.20 L105.39 162.35 L106.33 163.50 L107.27 164.64 L108.21 165.78 L109.15 166.90 L110.10 168.02 L111.04 169.14 L111.98 170.24 L112.92 171.34 L113.86 172.44 L114.80 173.52 L115.74 174.60 L116.68 175.67 L117.63 176.74 L118.57 177.80 L119.51 178.85 L120.45 179.89 L121.39 180.93 L122.33 181.96 L123.27 182.98 L124.21 184.00 L125.15 185.01 L126.10 186.01 L127.04 187.00 L127.98 187.99 L128.92 188.97 L129.86 189.95 L130.80 190.91 L131.74 191.87 L132.68 192.83 L133.62 193.77 L134.57 194.71 L135.51 195.64 L136.45 196.57 L137.39 197.49 L138.33 198.40 L139.27 199.30 L140.21 200.20 L141.15 201.09 L142.10 201.97 L143.04 202.85 L143.98 203.72 L144.92 204.58 L145.86 205.44 L146.80 206.28 L147.74 207.13 L148.68 207.96 L149.62 208.79 L150.57 209.61 L151.51 210.42 L152.45 211.23 L153.39 212.03 L154.33 212.82 L155.27 213.61 L156.21 214.38 L157.15 215.16 L158.09 215.92 L159.04 216.68 L159.98 217.43 L160.92 218.17 L161.86 218.91 L162.80 219.64 L163.74 220.36 L164.68 221.08 L165.62 221.79 L166.56 222.49 L167.51 223.18 L168.45 223.87 L169.39 224.55 L170.33 225.22 L171.27 225.89 L172.21 226.55 L173.15 227.20 L174.09 227.85 L175.04 228.49 L175.98 229.12 L176.92 229.75 L177.86 230.36 L178.80 230.97 L179.74 231.58 L180.68 232.18 L181.62 232.77 L182.56 233.35 L183.51 233.92 L184.45 234.49 L185.39 235.06 L186.33 235.61 L187.27 236.16 L188.21 236.70 L189.15 237.23 L190.09 237.76 L191.03 238.28 L191.98 238.80 L192.92 239.30 L193.86 239.80 L194.80 240.29 L195.74 240.78 L196.68 241.26 L197.62 241.73 L198.56 242.19 L199.51 242.65 L200.45 243.10 L201.39 243.54 L202.33 243.98 L203.27 244.41 L204.21 244.83 L205.15 245.25 L206.09 245.66 L207.03 246.06 L207.98 246.45 L208.92 246.84 L209.86 247.22 L210.80 247.59 L211.74 247.96 L212.68 248.32 L213.62 248.67 L214.56 249.02 L215.50 249.36 L216.45 249.69 L217.39 250.01 L218.33 250.33 L219.27 250.64 L220.21 250.94 L221.15 251.24 L222.09 251.53 L223.03 251.81 L223.98 252.09 L224.92 252.36 L225.86 252.62 L226.80 252.88 L227.74 253.12 L228.68 253.36 L229.62 253.60 L230.56 253.82 L231.50 254.04 L232.45 254.26 L233.39 254.46 L234.33 254.66 L235.27 254.85 L236.21 255.04 L237.15 255.22 L238.09 255.39 L239.03 255.55 L239.97 255.71 L240.92 255.86 L241.86 256.00 L242.80 256.14 L243.74 256.27 L244.68 256.39 L245.62 256.51 L246.56 256.61 L247.50 256.72 L248.45 256.81 L249.39 256.90 L250.33 256.98 L251.27 257.05 L252.21 257.12 L253.15 257.18 L254.09 257.23 L255.03 257.27 L255.97 257.31 L256.92 257.34 L257.86 257.37 L258.80 257.39 L259.74 257.40 L260.68 257.40 L261.62 257.40 L262.56 257.38 L263.50 257.36 L264.44 257.33 L265.39 257.28 L266.33 257.23 L267.27 257.17 L268.21 257.10 L269.15 257.02 L270.09 256.93 L271.03 256.84 L271.97 256.73 L272.91 256.61 L273.86 256.49 L274.80 256.35 L275.74 256.21 L276.68 256.05 L277.62 255.89 L278.56 255.72 L279.50 255.54 L280.44 255.35 L281.39 255.15 L282.33 254.94 L283.27 254.72 L284.21 254.49 L285.15 254.25 L286.09 254.01 L287.03 253.75 L287.97 253.49 L288.91 253.21 L289.86 252.93 L290.80 252.63 L291.74 252.33 L292.68 252.02 L293.62 251.70 L294.56 251.37 L295.50 251.03 L296.44 250.68 L297.38 250.32 L298.33 249.95 L299.27 249.57 L300.21 249.19 L301.15 248.79 L302.09 248.39 L303.03 247.97 L303.97 247.55 L304.91 247.12 L305.86 246.67 L306.80 246.22 L307.74 245.76 L308.68 245.29 L309.62 244.81 L310.56 244.32 L311.50 243.83 L312.44 243.32 L313.38 242.80 L314.33 242.28 L315.27 241.74 L316.21 241.20 L317.15 240.64 L318.09 240.08 L319.03 239.51 L319.97 238.92 L320.91 238.33 L321.85 237.73 L322.80 237.12 L323.74 236.50 L324.68 235.88 L325.62 235.24 L326.56 234.59 L327.50 233.93 L328.44 233.27 L329.38 232.59 L330.33 231.91 L331.27 231.22 L332.21 230.51 L333.15 229.80 L334.09 229.08 L335.03 228.35 L335.97 227.61 L336.91 226.86 L337.85 226.10 L338.80 225.33 L339.74 224.55 L340.68 223.77 L341.62 222.97 L342.56 222.17 L343.50 221.35 L344.44 220.53 L345.38 219.69 L346.32 218.85 L347.27 218.00 L348.21 217.14 L349.15 216.27 L350.09 215.39 L351.03 214.50 L351.97 213.60 L352.91 212.69 L353.85 211.78 L354.80 210.85 L355.74 209.91 L356.68 208.97 L357.62 208.02 L358.56 207.05 L359.50 206.08 L360.44 205.10 L361.38 204.10 L362.32 203.10 L363.27 202.09 L364.21 201.07 L365.15 200.05 L366.09 199.01 L367.03 197.96 L367.97 196.90 L368.91 195.84 L369.85 194.76 L370.79 193.68 L371.74 192.58 L372.68 191.48 L373.62 190.37 L374.56 189.25 L375.50 188.11 L376.44 186.97 L377.38 185.82 L378.32 184.67 L379.26 183.50 L380.21 182.32 L381.15 181.13 L382.09 179.94 L383.03 178.73 L383.97 177.52 L384.91 176.29 L385.85 175.06 L386.79 173.81 L387.74 172.56 L388.68 171.30 L389.62 170.03 L390.56 168.75 L391.50 167.46 L392.44 166.16 L393.38 164.85 L394.32 163.54 L395.26 162.21 L396.21 160.87 L397.15 159.53 L398.09 158.17 L399.03 156.81 L399.97 155.44 L400.91 154.05 L401.85 152.66 L402.79 151.26 L403.73 149.85 L404.68 148.43 L405.62 147.00 L406.56 145.56 L407.50 144.12 L408.44 142.66 L409.38 141.19 L410.32 139.72 L411.26 138.23 L412.21 136.74 L413.15 135.23 L414.09 133.72 L415.03 132.20 L415.97 130.67 L416.91 129.13 L417.85 127.58 L418.79 126.02 L419.73 124.45 L420.68 122.87 L421.62 121.28 L422.56 119.69 L423.50 118.08 L424.44 116.47 L425.38 114.84 L426.32 113.21 L427.26 111.56 L428.20 109.91 L429.15 108.25 L430.09 106.58 L431.03 104.90 L431.97 103.21 L432.91 101.51 L433.85 99.80 L434.79 98.08 L435.73 96.36 L436.68 94.62 L437.62 92.87 L438.56 91.12 L439.50 89.35 L440.44 87.58 L441.38 85.80 L442.32 84.01 L443.26 82.20 L444.20 80.39 L445.15 78.57 L446.09 76.74 L447.03 74.91 L447.97 73.06 L448.91 71.20" fill="none" stroke="#000" stroke-width="1.90" stroke-linecap="round" stroke-linejoin="round"/>
<path d="M72.45 54.67 L73.39 56.41 L74.33 58.14 L75.27 59.86 L76.21 61.57 L77.16 63.28 L78.10 64.98 L79.04 66.67 L79.98 68.36 L80.92 70.04 L81.86 71.71 L82.80 73.38 L83.74 75.04 L84.68 76.69 L85.63 78.33 L86.57 79.97 L87.51 81.60 L88.45 83.22 L89.39 84.84 L90.33 86.45 L91.27 88.05 L92.21 89.65 L93.16 91.24 L94.10 92.82 L95.04 94.39 L95.98 95.96 L96.92 97.52 L97.86 99.07 L98.80 100.62 L99.74 102.16 L100.68 103.69 L101.63 105.22 L102.57 106.74 L103.51 108.25 L104.45 109.75 L105.39 111.25 L106.33 112.74 L107.27 114.23 L108.21 115.70 L109.15 117.17 L110.10 118.63 L111.04 120.09 L111.98 121.54 L112.92 122.98 L113.86 124.42 L114.80 125.84 L115.74 127.26 L116.68 128.68 L117.63 130.09 L118.57 131.49 L119.51 132.88 L120.45 134.26 L121.39 135.64 L122.33 137.02 L123.27 138.38 L124.21 139.74 L125.15 141.09 L126.10 142.43 L127.04 143.77 L127.98 145.10 L128.92 146.42 L129.86 147.74 L130.80 149.05 L131.74 150.35 L132.68 151.65 L133.62 152.94 L134.57 154.22 L135.51 155.49 L136.45 156.76 L137.39 158.02 L138.33 159.27 L139.27 160.52 L140.21 161.76 L141.15 162.99 L142.10 164.22 L143.04 165.43 L143.98 166.65 L144.92 167.85 L145.86 169.05 L146.80 170.24 L147.74 171.42 L148.68 172.60 L149.62 173.77 L150.57 174.93 L151.51 176.09 L152.45 177.24 L153.39 178.38 L154.33 179.51 L155.27 180.64 L156.21 181.76 L157.15 182.87 L158.09 183.98 L159.04 185.08 L159.98 186.17 L160.92 187.26 L161.86 188.34 L162.80 189.41 L163.74 190.47 L164.68 191.53 L165.62 192.58 L166.56 193.63 L167.51 194.66 L168.45 195.69 L169.39 196.72 L170.33 197.73 L171.27 198.74 L172.21 199.74 L173.15 200.74 L174.09 201.73 L175.04 202.71 L175.98 203.68 L176.92 204.65 L177.86 205.61 L178.80 206.56 L179.74 207.51 L180.68 208.45 L181.62 209.38 L182.56 210.30 L183.51 211.22 L184.45 212.13 L185.39 213.04 L186.33 213.94 L187.27 214.83 L188.21 215.71 L189.15 216.58 L190.09 217.45 L191.03 218.32 L191.98 219.17 L192.92 220.02 L193.86 220.86 L194.80 221.70 L195.74 222.52 L196.68 223.34 L197.62 224.16 L198.56 224.96 L199.51 225.76 L200.45 226.56 L201.39 227.34 L202.33 228.12 L203.27 228.89 L204.21 229.66 L205.15 230.41 L206.09 231.16 L207.03 231.91 L207.98 232.64 L208.92 233.37 L209.86 234.10 L210.80 234.81 L211.74 235.52 L212.68 236.22 L213.62 236.92 L214.56 237.61 L215.50 238.29 L216.45 238.96 L217.39 239.63 L218.33 240.29 L219.27 240.94 L220.21 241.59 L221.15 242.22 L222.09 242.86 L223.03 243.48 L223.98 244.10 L224.92 244.71 L225.86 245.31 L226.80 245.91 L227.74 246.50 L228.68 247.08 L229.62 247.66 L230.56 248.23 L231.50 248.79 L232.45 249.34 L233.39 249.87 L234.33 250.38 L235.27 250.87 L236.21 251.34 L237.15 251.80 L238.09 252.24 L239.03 252.66 L239.97 253.06 L240.92 253.45 L241.86 253.82 L242.80 254.17 L243.74 254.50 L244.68 254.81 L245.62 255.11 L246.56 255.38 L247.50 255.64 L248.45 255.89 L249.39 256.11 L250.33 256.32 L251.27 256.50 L252.21 256.67 L253.15 256.83 L254.09 256.96 L255.03 257.08 L255.97 257.18 L256.92 257.26 L257.86 257.32 L258.80 257.36 L259.74 257.39 L260.68 257.40 L261.62 257.40 L262.56 257.40 L263.50 257.41 L264.44 257.41 L265.39 257.42 L266.33 257.43 L267.27 257.44 L268.21 257.45 L269.15 257.47 L270.09 257.48 L271.03 257.50 L271.97 257.52 L272.91 257.54 L273.86 257.56 L274.80 257.58 L275.74 257.61 L276.68 257.63 L277.62 257.66 L278.56 257.69 L279.50 257.72 L280.44 257.76 L281.39 257.79 L282.33 257.83 L283.27 257.87 L284.21 257.91 L285.15 257.95 L286.09 257.99 L287.03 258.04 L287.97 258.08 L288.91 258.13 L289.86 258.18 L290.80 258.23 L291.74 258.27 L292.68 258.30 L293.62 258.32 L294.56 258.33 L295.50 258.33 L296.44 258.33 L297.38 258.31 L298.33 258.28 L299.27 258.25 L300.21 258.21 L301.15 258.15 L302.09 258.09 L303.03 258.02 L303.97 257.94 L304.91 257.84 L305.86 257.74 L306.80 257.64 L307.74 257.52 L308.68 257.39 L309.62 257.25 L310.56 257.10 L311.50 256.95 L312.44 256.78 L313.38 256.61 L314.33 256.42 L315.27 256.23 L316.21 256.03 L317.15 255.82 L318.09 255.60 L319.03 255.37 L319.97 255.13 L320.91 254.88 L321.85 254.62 L322.80 254.35 L323.74 254.07 L324.68 253.79 L325.62 253.49 L326.56 253.19 L327.50 252.87 L328.44 252.55 L329.38 252.22 L330.33 251.87 L331.27 251.52 L332.21 251.16 L333.15 250.79 L334.09 250.41 L335.03 250.02 L335.97 249.63 L336.91 249.22 L337.85 248.80 L338.80 248.38 L339.74 247.94 L340.68 247.50 L341.62 247.04 L342.56 246.58 L343.50 246.11 L344.44 245.63 L345.38 245.13 L346.32 244.63 L347.27 244.12 L348.21 243.60 L349.15 243.08 L350.09 242.54 L351.03 241.99 L351.97 241.44 L352.91 240.87 L353.85 240.30 L354.80 239.71 L355.74 239.12 L356.68 238.51 L357.62 237.90 L358.56 237.28 L359.50 236.65 L360.44 236.01 L361.38 235.36 L362.32 234.70 L363.27 234.03 L364.21 233.36 L365.15 232.67 L366.09 231.97 L367.03 231.27 L367.97 230.55 L368.91 229.83 L369.85 229.10 L370.79 228.36 L371.74 227.60 L372.68 226.84 L373.62 226.07 L374.56 225.29 L375.50 224.50 L376.44 223.70 L377.38 222.90 L378.32 222.08 L379.26 221.25 L380.21 220.42 L381.15 219.57 L382.09 218.72 L383.03 217.86 L383.97 216.98 L384.91 216.10 L385.85 215.21 L386.79 214.31 L387.74 213.40 L388.68 212.48 L389.62 211.55 L390.56 210.61 L391.50 209.67 L392.44 208.71 L393.38 207.74 L394.32 206.77 L395.26 205.78 L396.21 204.79 L397.15 203.79 L398.09 202.77 L399.03 201.75 L399.97 200.72 L400.91 199.68 L401.85 198.63 L402.79 197.57 L403.73 196.50 L404.68 195.43 L405.62 194.34 L406.56 193.24 L407.50 192.14 L408.44 191.02 L409.38 189.90 L410.32 188.76 L411.26 187.62 L412.21 186.47 L413.15 185.31 L414.09 184.14 L415.03 182.96 L415.97 181.77 L416.91 180.57 L417.85 179.36 L418.79 178.14 L419.73 176.92 L420.68 175.68 L421.62 174.44 L422.56 173.18 L423.50 171.92 L424.44 170.64 L425.38 169.36 L426.32 168.07 L427.26 166.77 L428.20 165.46 L429.15 164.14 L430.09 162.81 L431.03 161.47 L431.97 160.12 L432.91 158.77 L433.85 157.40 L434.79 156.03 L435.73 154.64 L436.68 153.25 L437.62 151.84 L438.56 150.43 L439.50 149.01 L440.44 147.58 L441.38 146.14 L442.32 144.69 L443.26 143.23 L444.20 141.76 L445.15 140.28 L446.09 138.79 L447.03 137.30 L447.97 135.79 L448.91 134.28" fill="none" stroke="#0000CD" stroke-width="1.90" stroke-linecap="round" stroke-linejoin="round" stroke-dasharray="8.4 6.275" stroke-dashoffset="-0.73"/>
<path d="M72.45 180.83 L73.39 181.88 L74.33 182.92 L75.27 183.96 L76.21 184.99 L77.16 186.01 L78.10 187.03 L79.04 188.03 L79.98 189.04 L80.92 190.03 L81.86 191.02 L82.80 192.00 L83.74 192.97 L84.68 193.94 L85.63 194.90 L86.57 195.86 L87.51 196.80 L88.45 197.74 L89.39 198.67 L90.33 199.60 L91.27 200.52 L92.21 201.43 L93.16 202.33 L94.10 203.23 L95.04 204.12 L95.98 205.00 L96.92 205.88 L97.86 206.75 L98.80 207.61 L99.74 208.47 L100.68 209.31 L101.63 210.16 L102.57 210.99 L103.51 211.82 L104.45 212.64 L105.39 213.45 L106.33 214.26 L107.27 215.06 L108.21 215.85 L109.15 216.64 L110.10 217.41 L111.04 218.19 L111.98 218.95 L112.92 219.71 L113.86 220.46 L114.80 221.20 L115.74 221.94 L116.68 222.67 L117.63 223.39 L118.57 224.11 L119.51 224.81 L120.45 225.52 L121.39 226.21 L122.33 226.90 L123.27 227.58 L124.21 228.25 L125.15 228.92 L126.10 229.58 L127.04 230.23 L127.98 230.88 L128.92 231.52 L129.86 232.15 L130.80 232.78 L131.74 233.39 L132.68 234.00 L133.62 234.61 L134.57 235.20 L135.51 235.79 L136.45 236.38 L137.39 236.95 L138.33 237.52 L139.27 238.09 L140.21 238.64 L141.15 239.19 L142.10 239.73 L143.04 240.26 L143.98 240.79 L144.92 241.31 L145.86 241.82 L146.80 242.33 L147.74 242.83 L148.68 243.32 L149.62 243.81 L150.57 244.29 L151.51 244.76 L152.45 245.22 L153.39 245.68 L154.33 246.13 L155.27 246.57 L156.21 247.01 L157.15 247.44 L158.09 247.86 L159.04 248.28 L159.98 248.68 L160.92 249.09 L161.86 249.48 L162.80 249.87 L163.74 250.25 L164.68 250.62 L165.62 250.99 L166.56 251.35 L167.51 251.70 L168.45 252.05 L169.39 252.39 L170.33 252.72 L171.27 253.04 L172.21 253.36 L173.15 253.67 L174.09 253.97 L175.04 254.27 L175.98 254.56 L176.92 254.84 L177.86 255.12 L178.80 255.39 L179.74 255.65 L180.68 255.90 L181.62 256.15 L182.56 256.39 L183.51 256.63 L184.45 256.85 L185.39 257.07 L186.33 257.29 L187.27 257.49 L188.21 257.69 L189.15 257.88 L190.09 258.07 L191.03 258.25 L191.98 258.42 L192.92 258.58 L193.86 258.74 L194.80 258.89 L195.74 259.03 L196.68 259.17 L197.62 259.30 L198.56 259.42 L199.51 259.54 L200.45 259.64 L201.39 259.74 L202.33 259.84 L203.27 259.93 L204.21 260.01 L205.15 260.08 L206.09 260.15 L207.03 260.21 L207.98 260.26 L208.92 260.30 L209.86 260.34 L210.80 260.37 L211.74 260.40 L212.68 260.42 L213.62 260.43 L214.56 260.43 L215.50 260.43 L216.45 260.42 L217.39 260.40 L218.33 260.37 L219.27 260.34 L220.21 260.30 L221.15 260.26 L222.09 260.21 L223.03 260.15 L223.98 260.08 L224.92 260.01 L225.86 259.93 L226.80 259.84 L227.74 259.74 L228.68 259.64 L229.62 259.54 L230.56 259.42 L231.50 259.30 L232.45 259.18 L233.39 259.06 L234.33 258.95 L235.27 258.84 L236.21 258.74 L237.15 258.63 L238.09 258.54 L239.03 258.45 L239.97 258.36 L240.92 258.27 L241.86 258.19 L242.80 258.11 L243.74 258.04 L244.68 257.97 L245.62 257.91 L246.56 257.84 L247.50 257.79 L248.45 257.73 L249.39 257.68 L250.33 257.64 L251.27 257.60 L252.21 257.56 L253.15 257.53 L254.09 257.50 L255.03 257.47 L255.97 257.45 L256.92 257.43 L257.86 257.42 L258.80 257.41 L259.74 257.40 L260.68 257.40 L261.62 257.39 L262.56 257.36 L263.50 257.31 L264.44 257.24 L265.39 257.15 L266.33 257.04 L267.27 256.90 L268.21 256.75 L269.15 256.58 L270.09 256.39 L271.03 256.18 L271.97 255.94 L272.91 255.69 L273.86 255.42 L274.80 255.12 L275.74 254.81 L276.68 254.47 L277.62 254.12 L278.56 253.75 L279.50 253.35 L280.44 252.94 L281.39 252.50 L282.33 252.05 L283.27 251.57 L284.21 251.07 L285.15 250.56 L286.09 250.02 L287.03 249.46 L287.97 248.89 L288.91 248.29 L289.86 247.67 L290.80 247.04 L291.74 246.39 L292.68 245.74 L293.62 245.08 L294.56 244.40 L295.50 243.72 L296.44 243.03 L297.38 242.33 L298.33 241.62 L299.27 240.90 L300.21 240.17 L301.15 239.43 L302.09 238.69 L303.03 237.93 L303.97 237.16 L304.91 236.39 L305.86 235.61 L306.80 234.81 L307.74 234.01 L308.68 233.20 L309.62 232.37 L310.56 231.54 L311.50 230.70 L312.44 229.85 L313.38 229.00 L314.33 228.13 L315.27 227.25 L316.21 226.36 L317.15 225.47 L318.09 224.56 L319.03 223.65 L319.97 222.72 L320.91 221.79 L321.85 220.85 L322.80 219.89 L323.74 218.93 L324.68 217.96 L325.62 216.98 L326.56 215.99 L327.50 215.00 L328.44 213.99 L329.38 212.97 L330.33 211.94 L331.27 210.91 L332.21 209.86 L333.15 208.81 L334.09 207.75 L335.03 206.67 L335.97 205.59 L336.91 204.50 L337.85 203.40 L338.80 202.29 L339.74 201.17 L340.68 200.04 L341.62 198.90 L342.56 197.75 L343.50 196.60 L344.44 195.43 L345.38 194.25 L346.32 193.07 L347.27 191.88 L348.21 190.67 L349.15 189.46 L350.09 188.24 L351.03 187.01 L351.97 185.77 L352.91 184.52 L353.85 183.26 L354.80 181.99 L355.74 180.71 L356.68 179.42 L357.62 178.13 L358.56 176.82 L359.50 175.51 L360.44 174.18 L361.38 172.85 L362.32 171.51 L363.27 170.15 L364.21 168.79 L365.15 167.42 L366.09 166.04 L367.03 164.65 L367.97 163.25 L368.91 161.84 L369.85 160.43 L370.79 159.00 L371.74 157.56 L372.68 156.12 L373.62 154.66 L374.56 153.20 L375.50 151.73 L376.44 150.24 L377.38 148.75 L378.32 147.25 L379.26 145.74 L380.21 144.22 L381.15 142.69 L382.09 141.15 L383.03 139.61 L383.97 138.05 L384.91 136.48 L385.85 134.91 L386.79 133.32 L387.74 131.73 L388.68 130.12 L389.62 128.51 L390.56 126.89 L391.50 125.26 L392.44 123.62 L393.38 121.97 L394.32 120.31 L395.26 118.64 L396.21 116.96 L397.15 115.27 L398.09 113.57 L399.03 111.87 L399.97 110.15 L400.91 108.43 L401.85 106.69 L402.79 104.95 L403.73 103.20 L404.68 101.44 L405.62 99.67 L406.56 97.88 L407.50 96.09 L408.44 94.30 L409.38 92.49 L410.32 90.67 L411.26 88.84 L412.21 87.01 L413.15 85.16 L414.09 83.31 L415.03 81.44 L415.97 79.57 L416.91 77.68 L417.85 75.79 L418.79 73.89 L419.73 71.98 L420.68 70.06 L421.62 68.13 L422.56 66.19 L423.50 64.24 L424.44 62.29 L425.38 60.32 L426.32 58.34 L427.26 56.36 L428.20 54.36 L429.15 52.36 L430.09 50.35 L431.03 48.32 L431.97 46.29 L432.91 44.25 L433.85 42.20 L434.79 40.14 L435.73 38.07 L436.68 35.99 L437.62 33.90 L438.56 31.81 L439.50 29.70 L440.44 27.58 L441.38 25.46 L442.32 23.33 L443.26 21.18 L444.20 19.03 L445.15 16.87 L446.09 14.70 L447.03 12.51 L447.97 10.32 L448.91 8.12" fill="none" stroke="#0000CD" stroke-width="1.90" stroke-linecap="round" stroke-linejoin="round" stroke-dasharray="1.1 4.75 6.95 4.82"/>
</g>
<g fill="none" stroke="#000" stroke-width="0.85"><rect x="57.92" y="57.55" width="405.58" height="222.55"/><path d="M72.45 280.10V287.50"/><path d="M166.56 280.10V287.50"/><path d="M260.68 280.10V287.50"/><path d="M354.80 280.10V287.50"/><path d="M448.91 280.10V287.50"/><path d="M57.92 257.40H50.42"/><path d="M57.92 210.85H50.42"/><path d="M57.92 164.30H50.42"/><path d="M57.92 117.75H50.42"/><path d="M57.92 71.20H50.42"/></g>
<g font-size="11.74" fill="#000" style="will-change:opacity" stroke="#000" stroke-width="0.1"><text x="72.5" y="305.3" text-anchor="middle">−1.0</text><text x="166.6" y="305.3" text-anchor="middle">−0.5</text><text x="260.7" y="305.3" text-anchor="middle">0.0</text><text x="354.8" y="305.3" text-anchor="middle">0.5</text><text x="448.9" y="305.3" text-anchor="middle">1.0</text><text transform="translate(40.9 257.0) rotate(-90)" text-anchor="middle">0</text><text transform="translate(40.9 210.4) rotate(-90)" text-anchor="middle">1</text><text transform="translate(40.9 163.9) rotate(-90)" text-anchor="middle">2</text><text transform="translate(40.9 117.3) rotate(-90)" text-anchor="middle">3</text><text transform="translate(40.9 70.8) rotate(-90)" text-anchor="middle">4</text><text x="260.9" y="333" text-anchor="middle">X</text><text transform="translate(12.4 168.6) rotate(-90)" text-anchor="middle">Y</text></g>
<text id="title" style="will-change:opacity" stroke="#000" stroke-width="0.1" x="260.4" y="31.4" text-anchor="middle" font-size="13.66" fill="#000">RDHonest functions with worst−bias for m<tspan font-size="9.56" dy="3.2">quad</tspan><tspan dy="-3.2"> example from IK</tspan></text>
<rect x="185.5" y="57.5" width="151.0" height="56.0" fill="#fff" stroke="#000" stroke-width="0.73"/>
<path d="M196.00 71.55H216.90" stroke="#000" stroke-width="1.90" stroke-linecap="round"/>
<path d="M196.00 85.60H216.90" stroke="#0000CD" stroke-width="1.90" stroke-linecap="round" stroke-dasharray="8.4 6.275"/>
<path d="M196.00 99.65H216.90" stroke="#0000CD" stroke-width="1.90" stroke-linecap="round" stroke-dasharray="1.15 4.85 7.0 4.95"/>
<g id="leg" font-size="11.74" fill="#000" style="will-change:opacity" stroke="#000" stroke-width="0.1"><text x="227.7" y="75.5">true curve</text><text x="227.7" y="89.6">curve with max bias</text><text x="227.7" y="103.6">curve with min bias</text></g>
</svg></body></html>
